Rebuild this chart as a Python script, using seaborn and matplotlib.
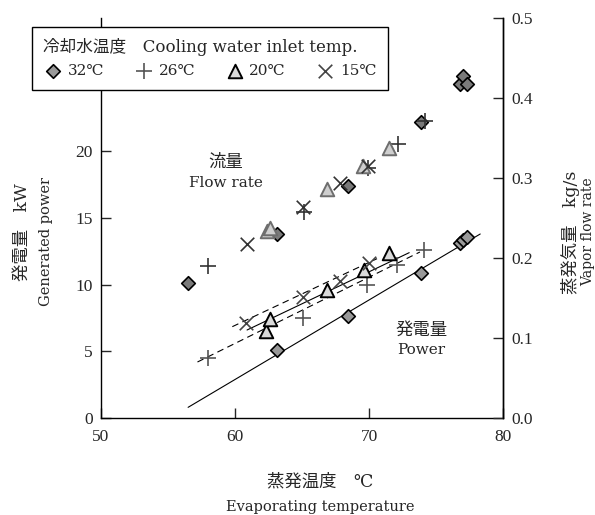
import numpy as np
import pandas as pd
import seaborn as sns
import matplotlib.pyplot as plt

# --- data ---
series = ['32℃', '26℃', '20℃', '15℃']

# generated power (kW) vs evaporating temperature
pw_t_32 = [63.1, 68.4, 73.9, 76.8, 77.0, 77.3]
pw_v_32 = [5.1, 7.65, 10.9, 13.1, 13.35, 13.6]
pw_t_26 = [58.0, 65.1, 69.85, 72.1, 74.1]
pw_v_26 = [4.5, 7.5, 10.0, 11.5, 12.6]
pw_t_20 = [62.3, 62.6, 66.9, 69.6, 71.5]
pw_v_20 = [6.5, 7.4, 9.6, 11.1, 12.4]
pw_t_15 = [60.8, 65.1, 67.8, 70.0]
pw_v_15 = [7.1, 9.1, 10.3, 11.6]

# vapor flow rate (kg/s) vs evaporating temperature
fl_t_32 = [56.5, 63.1, 68.4, 73.9, 76.8, 77.0, 77.3]
fl_v_32 = [0.169, 0.230, 0.290, 0.370, 0.418, 0.427, 0.418]
fl_t_26 = [58.0, 65.15, 69.9, 72.2, 74.2]
fl_v_26 = [0.190, 0.2575, 0.312, 0.3425, 0.371]
fl_t_20 = [62.4, 62.6, 66.9, 69.55, 71.5]
fl_v_20 = [0.234, 0.2375, 0.286, 0.315, 0.3375]
fl_t_15 = [60.9, 65.1, 67.8, 69.9]
fl_v_15 = [0.2175, 0.264, 0.294, 0.315]

# fitted power lines (end points)
fit_t_32 = [56.5, 78.3]
fit_v_32 = [0.8, 13.8]
fit_t_26 = [57.2, 73.8]
fit_v_26 = [4.2, 12.45]
fit_t_20 = [60.9, 73.0]
fit_v_20 = [6.6, 12.4]
fit_t_15 = [59.8, 70.6]
fit_v_15 = [6.85, 11.95]

x_ticks = [50, 60, 70, 80]
left_ticks = [0, 5, 10, 15, 20]
right_ticks = [0.0, 0.1, 0.2, 0.3, 0.4, 0.5]

sns.set_style('ticks')
plt.rcParams['font.family'] = ['DejaVu Serif', 'Noto Sans CJK JP']
plt.rcParams['font.size'] = 11

JP = 12.5   # size for Japanese lines
EN = 10.5   # size for English lines

fig = plt.figure(figsize=(5.95, 5.15), dpi=100)
ax = fig.add_axes([101/595, 1-418/515, 402/595, 400/515])
ax2 = ax.twinx()

# styles per cooling water temperature
pw_style = {
    '32℃': dict(marker='D', s=48, color='#999999', edgecolor='black', linewidth=1.2),
    '26℃': dict(marker='+', s=120, color='#555555', linewidth=1.2),
    '20℃': dict(marker='^', s=95, color='#d9d9d9', edgecolor='black', linewidth=1.4),
    '15℃': dict(marker='x', s=95, color='#444444', linewidth=1.2),
}
fl_style = {
    '32℃': dict(marker='D', s=48, color='#7a7a7a', edgecolor='black', linewidth=1.2),
    '26℃': dict(marker='+', s=120, color='#333333', linewidth=1.2),
    '20℃': dict(marker='^', s=95, color='#cfcfcf', edgecolor='#6e6e6e', linewidth=1.4),
    '15℃': dict(marker='x', s=95, color='#333333', linewidth=1.2),
}

pw_data = {'32℃': (pw_t_32, pw_v_32), '26℃': (pw_t_26, pw_v_26),
           '20℃': (pw_t_20, pw_v_20), '15℃': (pw_t_15, pw_v_15)}
fl_data = {'32℃': (fl_t_32, fl_v_32), '26℃': (fl_t_26, fl_v_26),
           '20℃': (fl_t_20, fl_v_20), '15℃': (fl_t_15, fl_v_15)}
fit_data = {'32℃': (fit_t_32, fit_v_32, '-'), '26℃': (fit_t_26, fit_v_26, (0, (6, 4))),
            '20℃': (fit_t_20, fit_v_20, '-'), '15℃': (fit_t_15, fit_v_15, (0, (6, 4)))}

# fit lines
for name in series:
    t, v, ls = fit_data[name]
    sns.lineplot(x=t, y=v, ax=ax, color='black', lw=0.8, linestyle=ls, legend=False)

# power points (left axis)
for name in series:
    t, v = pw_data[name]
    sns.scatterplot(x=t, y=v, ax=ax, label=name, zorder=3, **pw_style[name])

# flow rate points (right axis)
for name in series:
    t, v = fl_data[name]
    sns.scatterplot(x=t, y=v, ax=ax2, zorder=3, legend=False, **fl_style[name])

ax.set_xlim(50, 80)
ax.set_ylim(0, 30)
ax2.set_ylim(0, 0.5)
ax.set_xticks(x_ticks)
ax.set_yticks(left_ticks)
ax2.set_yticks(right_ticks)
ax2.set_yticklabels([f'{v:.1f}' for v in right_ticks])
ax.set_xlabel('')
ax.set_ylabel('')
ax2.set_ylabel('')

for a in (ax, ax2):
    a.spines['top'].set_visible(False)
    for sp in a.spines.values():
        sp.set_linewidth(1.0)
        sp.set_color('black')
    a.tick_params(direction='in', length=7, width=1.0, labelsize=12.5, pad=6,
                  labelfontfamily='Liberation Serif')
ax2.spines['left'].set_visible(False)
ax2.spines['bottom'].set_visible(False)
ax.tick_params(axis='x', pad=8)

# annotations
ax2.text(59.3, 0.320, '流量', ha='center', va='center', fontsize=JP)
ax2.text(59.3, 0.294, 'Flow rate', ha='center', va='center', fontsize=EN + 0.5)
ax.text(73.9, 6.6, '発電量', ha='center', va='center', fontsize=JP)
ax.text(73.9, 5.1, 'Power', ha='center', va='center', fontsize=EN + 0.5)

# axis titles
fig.text(320/595, 1-482/515, '蒸発温度　℃', ha='center', va='center', fontsize=JP)
fig.text(320/595, 1-507/515, 'Evaporating temperature', ha='center', va='center', fontsize=EN)
fig.text(22/595, 1-232/515, '発電量　kW', ha='center', va='center', rotation=90, fontsize=JP)
fig.text(46/595, 1-242/515, 'Generated power', ha='center', va='center', rotation=90, fontsize=EN)
fig.text(571/595, 1-232/515, '蒸発気量　kg/s', ha='center', va='center', rotation=90, fontsize=JP)
fig.text(588/595, 1-232/515, 'Vapor flow rate', ha='center', va='center', rotation=90, fontsize=EN - 0.5)

handles, labels = ax.get_legend_handles_labels()
if ax.get_legend() is not None:
    ax.get_legend().remove()
leg = fig.legend(handles, labels, loc='upper left', bbox_to_anchor=(32/595, 1-27/515),
                 ncol=4, title='冷却水温度　Cooling water inlet temp.', alignment='left',
                 frameon=True, fancybox=False, edgecolor='black', framealpha=1,
                 fontsize=11, title_fontsize=12, borderaxespad=0, handletextpad=0.3,
                 columnspacing=1.95, handlelength=1.3, borderpad=0.75)
leg.get_frame().set_linewidth(1.0)

fig.savefig('out.png', dpi=100)
